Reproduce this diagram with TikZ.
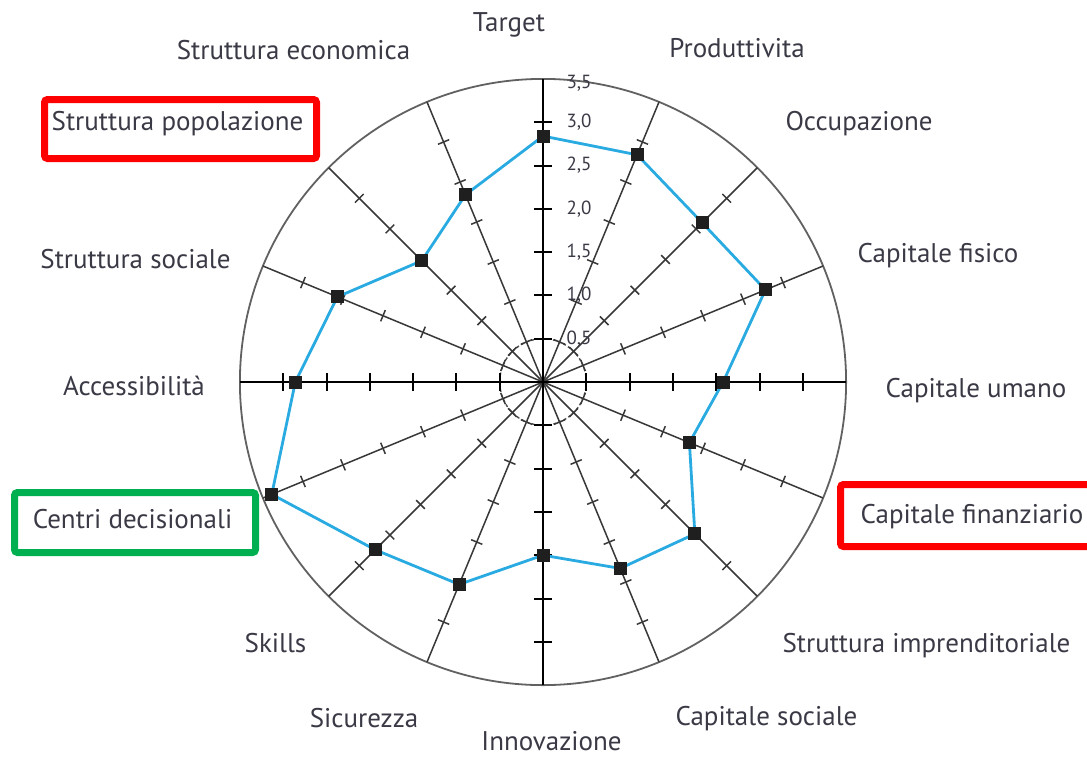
\documentclass[tikz,border=0pt]{standalone}
\usepackage{fontspec}
\setmainfont{PT Sans}
\definecolor{txt}{RGB}{58,58,70}
\definecolor{polyblue}{RGB}{41,171,226}
\definecolor{boxred}{RGB}{255,0,0}
\definecolor{boxgreen}{RGB}{0,176,80}
\begin{document}
\begin{tikzpicture}[x=1pt,y=-1pt,
  lbl/.style={font=\fontsize{27}{32}\selectfont, text=txt, inner sep=0pt, anchor=base},
  num/.style={font=\fontsize{19}{22}\selectfont, text=txt, inner sep=0pt, anchor=west},
  datadot/.style={rectangle, fill=black!88, draw=none, minimum size=13pt, inner sep=0pt},
  outercirc/.style={draw=black!62, line width=1.8pt},
  innercirc/.style={draw=black!70, line width=1.4pt, dash pattern=on 3pt off 2.5pt},
  spoke/.style={draw=black!78, line width=1.5pt},
  mainaxis/.style={draw=black, line width=2pt},
  polyline/.style={draw=polyblue, line width=2.8pt, line join=round},
  framebox/.style={line width=7pt, rounded corners=3pt}]
\useasboundingbox (0,0) rectangle (1087,756);
\fill[white] (0,0) rectangle (1087,756);
\coordinate (O) at (543,382);
\begin{scope}[shift={(O)}, x=86.6pt, y=86.6pt]
  \draw[outercirc] (0,0) circle (3.5);
  \draw[innercirc] (0,0) circle (0.5);
  \foreach \a in {22.5,45,67.5,112.5,135,157.5,202.5,225,247.5,292.5,315,337.5} {
    \draw[spoke, rotate=\a] (0,0) -- (3.5,0);
    \foreach \r in {0.5,1,...,3} \draw[spoke, rotate=\a] (\r,-0.07) -- (\r,0.07);
  }
  \foreach \a in {0,90,180,270} {
    \draw[mainaxis, rotate=\a] (0,0) -- (3.5,0);
    \foreach \r in {0.5,1,...,3} \draw[mainaxis, rotate=\a] (\r,-0.1) -- (\r,0.1);
  }
  \foreach \n/\a/\v in {1/90/2.84, 2/67.5/2.84, 3/45/2.6, 4/22.5/2.78, 5/0/2.08,
      6/-22.5/1.83, 7/-45/2.48, 8/-67.5/2.33, 9/-90/2.0, 10/-112.5/2.53,
      11/-135/2.74, 12/-157.5/3.39, 13/180/2.86, 14/157.5/2.57, 15/135/1.98, 16/112.5/2.34}
    \coordinate (v\n) at (\a:\v);
  \draw[polyline] (v1) -- (v2) -- (v3) -- (v4) -- (v5) -- (v6) -- (v7) -- (v8) -- (v9)
     -- (v10) -- (v11) -- (v12) -- (v13) -- (v14) -- (v15) -- (v16) -- cycle;
  \foreach \n in {1,...,16} \node[datadot] (p\n) at (v\n) {};
  \node[num] (t05) at (0.27,0.5) {0,5};
  \node[num] (t10) at (0.27,1.0) {1,0};
  \node[num] (t15) at (0.27,1.5) {1,5};
  \node[num] (t20) at (0.27,2.0) {2,0};
  \node[num] (t25) at (0.27,2.5) {2,5};
  \node[num] (t30) at (0.27,3.0) {3,0};
  \node[num] (t35) at (0.27,3.45) {3,5};
\end{scope}
% axis labels
\node[lbl] (lTarget) at (509,31) {Target};
\node[lbl] (lProd) at (737,57) {Produttivita};
\node[lbl] (lEcon) at (293.5,59) {Struttura economica};
\node[lbl] (lOcc) at (859,130) {Occupazione};
\node[lbl] (lPop) at (177.5,130) {Struttura popolazione};
\node[lbl] (lFis) at (938,262) {Capitale fisico};
\node[lbl] (lSoc) at (135.5,268) {Struttura sociale};
\node[lbl] (lUm) at (976,397) {Capitale umano};
\node[lbl] (lAcc) at (134,395) {Accessibilità};
\node[lbl] (lFin) at (972,523) {Capitale finanziario};
\node[lbl] (lCen) at (132.5,528) {Centri decisionali};
\node[lbl] (lImp) at (926.5,652) {Struttura imprenditoriale};
\node[lbl] (lSk) at (275.5,652) {Skills};
\node[lbl] (lCap) at (766.5,725) {Capitale sociale};
\node[lbl] (lSic) at (364,727) {Sicurezza};
\node[lbl] (lInn) at (551.5,750) {Innovazione};
% highlight frames
\draw[framebox, draw=boxred] (44.5,99.5) rectangle (316.5,158.5);
\draw[framebox, draw=boxgreen] (14.5,492.5) rectangle (255.5,552.5);
\draw[framebox, draw=boxred] (840.5,484.5) rectangle (1096,546.5);
\end{tikzpicture}
\end{document}
